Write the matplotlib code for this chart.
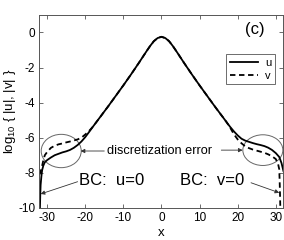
import matplotlib
matplotlib.use("Agg")
import matplotlib.pyplot as plt
from matplotlib.patches import Ellipse

plt.rcParams["font.family"] = ["Liberation Sans", "DejaVu Sans"]
plt.rcParams["axes.unicode_minus"] = False
plt.rcParams["mathtext.fontset"] = "custom"
plt.rcParams["mathtext.rm"] = "Liberation Sans"
plt.rcParams["mathtext.it"] = "Liberation Sans:italic"

# values: log10|u| and log10|v| against x
x_u = [-31.9, -31.8, -31.7, -31.5, -31.3, -31.0, -30.6, -30, -29, -28, -27, -26,
       -25, -24, -23, -22, -21, -20, -19, -18, -17, -16, -14, -12, -10, -8, -6,
       -5, -4, -3, -2, -1, 0, 1, 2, 3, 4, 5, 6, 8, 10, 12, 14, 16, 17, 18, 19,
       20, 21, 22, 23, 24, 25, 26, 27, 28, 29, 30, 30.9, 31.5, 32]
log_u = [-10.2, -9.3, -8.7, -8.2, -7.85, -7.6, -7.4, -7.28, -7.13, -7.0, -6.92,
         -6.84, -6.78, -6.7, -6.58, -6.42, -6.22, -5.97, -5.68, -5.38, -5.09,
         -4.8, -4.22, -3.62, -3.02, -2.4, -1.76, -1.43, -1.1, -0.78, -0.5, -0.32,
         -0.25, -0.32, -0.5, -0.78, -1.1, -1.43, -1.76, -2.4, -3.02, -3.62,
         -4.22, -4.8, -5.09, -5.38, -5.64, -5.87, -6.06, -6.17, -6.24, -6.31,
         -6.37, -6.42, -6.48, -6.57, -6.7, -6.88, -7.1, -7.45, -7.9]

x_v = [-32, -31.5, -31.0, -30.6, -30, -29, -28, -27, -26, -25, -24, -23, -22,
       -21, -20, -19, -18, -17, -16, -14, -12, -10, -8, -6, -5, -4, -3, -2, -1,
       0, 1, 2, 3, 4, 5, 6, 8, 10, 12, 14, 16, 17, 18, 19, 20, 21, 22, 23, 24,
       25, 26, 27, 28, 29, 30, 30.6, 30.9, 31.0, 31.1, 31.2]
log_v = [-8.1, -7.8, -7.3, -7.0, -6.82, -6.58, -6.46, -6.38, -6.33, -6.27,
         -6.22, -6.16, -6.1, -6.0, -5.82, -5.62, -5.38, -5.09, -4.8, -4.22,
         -3.62, -3.02, -2.4, -1.76, -1.43, -1.1, -0.78, -0.5, -0.32, -0.25,
         -0.32, -0.5, -0.78, -1.1, -1.43, -1.76, -2.4, -3.02, -3.62, -4.22,
         -4.8, -5.09, -5.42, -5.8, -6.1, -6.32, -6.5, -6.6, -6.68, -6.74, -6.8,
         -6.86, -6.95, -7.06, -7.22, -7.5, -7.8, -8.4, -9.2, -10.2]

x_ticks = [-30, -20, -10, 0, 10, 20, 30]
y_ticks = [-10, -8, -6, -4, -2, 0]

spine_grey = "#555555"


def main():
    fig = plt.figure(figsize=(2.84, 2.40), dpi=100)
    ax = fig.add_axes([0.139, 0.134, 0.859, 0.804])

    ax.plot(x_u, log_u, "-", color="black", lw=1.3, label="u")
    ax.plot(x_v, log_v, "--", color="black", lw=1.3, label="v",
            dashes=(3, 2))

    ax.set_xlim(-32, 32)
    ax.set_ylim(-10, 1)
    ax.set_xticks(x_ticks)
    ax.set_yticks(y_ticks)
    ax.tick_params(direction="in", top=True, right=True, length=3,
                   width=0.6, color=spine_grey, labelsize=8.5, pad=3)
    for s in ax.spines.values():
        s.set_color(spine_grey)
        s.set_linewidth(0.7)

    ax.set_xlabel("x", fontsize=9.5, labelpad=2)
    ax.set_ylabel(r"log$_{10}$ { |u|, |v| }", fontsize=9.5)
    ax.yaxis.set_label_coords(-0.088, 0.5)

    # circles around the boundary regions
    for cx, cy, w, h in [(-26.3, -6.76, 10.5, 1.9), (26.6, -6.71, 10.5, 1.75)]:
        ax.add_patch(Ellipse((cx, cy), w, h, fill=False, ec="#666666", lw=0.7))

    arrow = dict(arrowstyle="-|>", color="#333333", lw=0.6,
                 mutation_scale=6, shrinkA=0, shrinkB=0)
    ax.text(-0.5, -6.76, "discretization error", fontsize=9.2,
            ha="center", va="center")
    ax.annotate("", xy=(-21.2, -6.76), xytext=(-15.0, -6.76), arrowprops=arrow)
    ax.annotate("", xy=(21.3, -6.71), xytext=(15.7, -6.71), arrowprops=arrow)

    ax.text(-13.2, -8.46, "BC:  u=0", fontsize=12, ha="center", va="center")
    ax.text(13.2, -8.46, "BC:  v=0", fontsize=12, ha="center", va="center")
    ax.annotate("", xy=(-31.7, -9.21), xytext=(-22.0, -8.51), arrowprops=arrow)
    ax.annotate("", xy=(30.9, -9.14), xytext=(23.5, -8.57), arrowprops=arrow)

    ax.text(24.5, 0.17, "(c)", fontsize=12, ha="center", va="center")

    leg = ax.legend(loc="upper right", bbox_to_anchor=(0.964, 0.795),
                    borderaxespad=0, fontsize=8, handlelength=2.6,
                    handletextpad=0.6, borderpad=0.3, labelspacing=0.25,
                    fancybox=False, framealpha=1)
    leg.get_frame().set_edgecolor(spine_grey)
    leg.get_frame().set_linewidth(0.6)

    fig.savefig("out.png", dpi=100)


if __name__ == "__main__":
    main()
